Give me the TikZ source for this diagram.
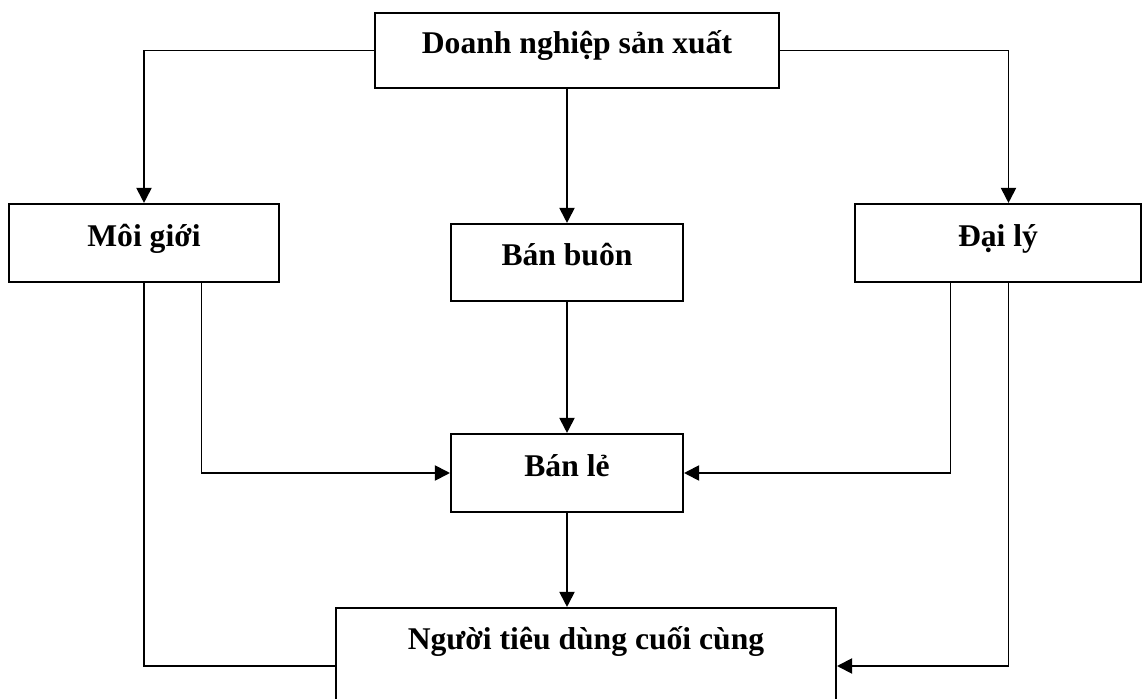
\documentclass[tikz,border=0pt]{standalone}
\usepackage{fontspec}
\setmainfont{Liberation Serif}
\usetikzlibrary{arrows.meta}

\begin{document}
\begin{tikzpicture}[x=0.02cm, y=-0.02cm,
    hop/.style={draw=black, line width=1.2pt, inner sep=0pt, text height=0.45cm, text depth=0.31cm,
        font=\bfseries\fontsize{18}{22}\selectfont},
    mui/.style={line width=1.1pt, -{Triangle[length=0.3cm, width=0.3cm]}}]
    \clip (0, 0) rectangle (1143, 699);

    \node[hop, minimum width=8.08cm, minimum height=1.5cm] (dn) at (577, 50.5) {Doanh nghiệp sản xuất};
    \node[hop, minimum width=5.4cm, minimum height=1.56cm] (mg) at (144, 243) {Môi giới};
    \node[hop, minimum width=4.64cm, minimum height=1.54cm] (bb) at (567, 262.5) {Bán buôn};
    \node[hop, minimum width=5.72cm, minimum height=1.56cm] (dl) at (998, 243) {Đại lý};
    \node[hop, minimum width=4.64cm, minimum height=1.56cm] (bl) at (567, 473) {Bán lẻ};
    \node[hop, minimum width=10cm, minimum height=2cm, text depth=0.81cm] (ntd) at (586, 658) {Người tiêu dùng cuối cùng};

    \draw[mui] (dn.west) -| (mg.north);
    \draw[mui] (dn.east) -| ([xshift=0.21cm]dl.north);
    \draw[mui] (bb.north |- dn.south) -- (bb.north);
    \draw[mui] (bb.south) -- (bl.north);
    \draw[mui] ([xshift=1.15cm]mg.south) |- (bl.west);
    \draw[mui] ([xshift=-0.95cm]dl.south) |- (bl.east);
    \draw[line width=1.1pt] (mg.south) |- ([yshift=-0.16cm]ntd.west);
    \draw[mui] ([xshift=0.21cm]dl.south) |- ([yshift=-0.16cm]ntd.east);
    \draw[mui] (bl.south) -- (bl.south |- ntd.north);

\end{tikzpicture}
\end{document}
